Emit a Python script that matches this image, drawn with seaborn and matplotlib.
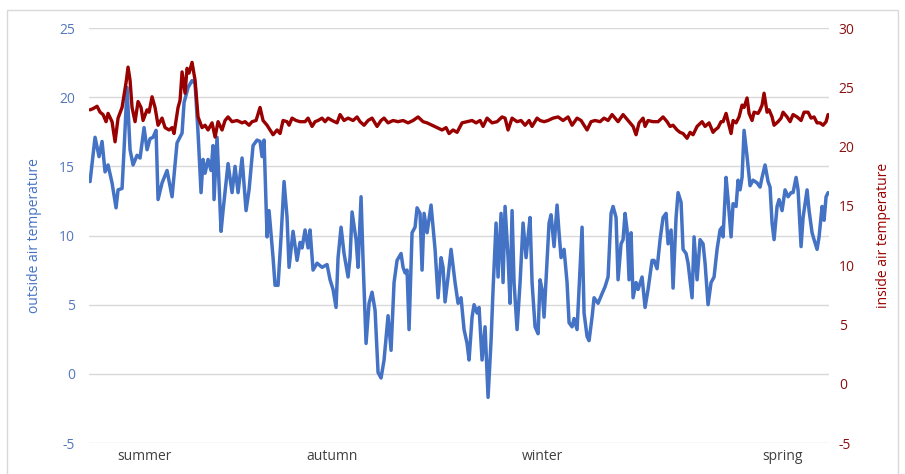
import matplotlib
matplotlib.use("Agg")
import matplotlib.pyplot as plt
from matplotlib.patches import Rectangle
import seaborn as sns
import pandas as pd

# ---- data: (day of record, temperature in degC) ----
outside_air = [
    (0, 13.9), (2.5, 17.1), (4.5, 15.7), (6, 16.8), (7.5, 14.6), (9, 15.1), (11, 13.8), (13, 12.0),
    (14, 13.3), (16, 13.4), (17, 16.2), (18.5, 20.7), (20, 16.2), (21.5, 15.1), (23.5, 15.8), (25, 15.6),
    (27, 17.8), (28.5, 16.2), (30, 17.0), (31.5, 17.1), (33, 17.6), (34, 12.6), (36, 13.8), (38.5, 14.7),
    (41, 12.8), (43.5, 16.7), (46, 17.4), (47, 19.6), (49, 20.7), (51, 21.2), (52.5, 21.0), (54, 17.4),
    (55.5, 13.1), (56.5, 15.5), (57.5, 14.5), (59, 15.5), (60.5, 14.7), (61.5, 16.5), (62, 12.6), (63.5, 17.1),
    (65.5, 10.3), (66.5, 11.8), (69, 15.2), (71, 13.1), (72.5, 15.0), (74, 13.1), (76, 15.6), (78, 11.8),
    (79.5, 13.3), (81.5, 16.5), (83.5, 16.9), (85, 16.8), (86, 15.7), (87, 16.9), (88.5, 9.9), (89.5, 11.8),
    (91.5, 8.4), (92.5, 6.4), (94, 6.4), (95.5, 9.9), (97, 13.9), (98.5, 11.3), (99.5, 7.7), (101.5, 10.3),
    (103.5, 8.2), (105, 9.5), (106, 9.1), (107.5, 10.4), (109, 9.1), (110, 10.4), (111.5, 7.5), (113.5, 8.0),
    (116, 7.7), (118.5, 7.9), (120, 6.8), (121.5, 6.1), (123, 4.8), (124, 8.4), (125.5, 10.6), (127, 8.7),
    (129, 7.0), (130, 8.4), (131, 11.7), (133, 9.7), (134, 7.7), (135.5, 12.8), (136.5, 8.2), (138, 2.2),
    (139.5, 5.1), (141, 5.9), (142.5, 4.6), (144, 0.1), (145.5, -0.3), (147, 1.0), (149, 4.2), (150.5, 1.7),
    (152, 6.6), (153.5, 8.2), (155.5, 8.7), (156.5, 7.7), (157.5, 7.3), (158.5, 7.5), (159.5, 3.2), (161, 10.2),
    (162.5, 10.6), (163.5, 12.0), (165, 11.6), (166, 7.5), (167, 11.6), (168.5, 10.2), (170.5, 12.2), (172.5, 9.0),
    (174, 5.5), (175.5, 8.4), (176.5, 7.7), (177.5, 5.2), (179, 7.0), (180.5, 9.0), (182.5, 6.6), (184, 5.1),
    (185.5, 5.5), (187, 3.2), (188.5, 2.2), (189.5, 1.0), (191, 4.1), (192, 5.0), (193.5, 4.4), (194.5, 4.8),
    (196, 1.0), (197.5, 3.4), (199, -1.7), (200.5, 2.4), (201.5, 6.1), (203, 10.9), (204, 7.0), (205.5, 11.6),
    (206.5, 6.6), (207.5, 12.1), (209, 8.4), (210, 5.1), (211, 11.8), (212, 6.6), (213.5, 3.2), (215, 6.6),
    (216.5, 10.9), (218, 8.4), (219, 9.9), (220, 11.3), (221, 6.6), (222.5, 3.4), (224, 2.9), (225, 6.8),
    (226, 6.1), (227, 4.1), (228.5, 8.2), (229.5, 10.9), (230.5, 11.5), (232, 9.2), (233.5, 12.2), (234.5, 10.2),
    (235.5, 8.4), (237, 9.0), (238.5, 6.6), (239.5, 3.7), (241, 3.4), (242, 4.0), (243.5, 3.2), (244.5, 6.1),
    (246, 10.6), (247, 4.4), (248.5, 2.7), (249.5, 2.4), (251, 4.1), (252, 5.5), (254, 5.1), (256, 5.8),
    (257.5, 6.3), (259, 7.0), (260.5, 11.6), (261.5, 12.1), (263, 11.3), (264, 6.8), (265.5, 9.4), (266.5, 9.7),
    (267.5, 11.6), (268.5, 10.4), (269.5, 6.8), (270.5, 10.2), (271.5, 5.5), (273, 6.6), (274, 6.1), (276, 7.0),
    (277.5, 4.8), (279, 6.1), (281, 8.2), (282, 8.2), (283.5, 7.6), (285, 9.7), (286.5, 11.3), (288, 11.6),
    (289, 9.4), (290.5, 10.4), (291.5, 6.2), (293, 11.3), (294, 13.1), (295.5, 12.4), (296.5, 9.0), (298, 8.7),
    (299, 8.0), (301, 5.5), (302, 9.9), (303.5, 6.8), (305, 9.7), (306.5, 9.4), (307.5, 8.0), (309, 5.0),
    (310.5, 6.6), (312, 7.0), (313.5, 9.0), (315, 10.4), (316, 10.6), (316.5, 9.9), (318, 14.2), (319, 12.6),
    (320.5, 9.9), (321.5, 12.3), (323, 12.1), (324, 14.0), (325, 13.3), (326, 14.2), (327, 17.6), (328.5, 15.7),
    (330, 13.6), (331.5, 14.0), (333.5, 13.8), (335, 13.5), (336, 14.2), (337.5, 15.1), (339, 13.9), (340, 13.5),
    (341, 10.9), (342, 9.7), (343.5, 12.1), (344.5, 12.6), (346, 11.8), (347.5, 13.3), (349, 12.8), (350.5, 13.1),
    (351.5, 13.1), (353, 14.2), (354, 13.3), (355.5, 9.2), (356.5, 11.3), (358.5, 13.3), (359.5, 11.8), (361, 10.2),
    (362, 9.7), (363.5, 9.0), (364.5, 9.9), (366, 12.1), (367, 11.1), (368, 12.8), (369, 13.1),
]

inside_air = [
    (0, 23.1), (1.5, 23.2), (3.5, 23.4), (5, 22.9), (6.5, 22.7), (8, 22.1), (9, 22.8), (11, 22.1),
    (12.5, 20.4), (14, 22.4), (16, 23.3), (18, 25.4), (19, 26.7), (20, 25.6), (21, 23.3), (22.5, 22.1),
    (24, 23.8), (25.5, 23.3), (26.5, 22.2), (28.5, 23.1), (29.5, 22.9), (31, 24.2), (32.5, 23.3), (34, 21.8),
    (36, 22.4), (37.5, 21.6), (39.5, 21.4), (41, 21.6), (42, 21.1), (44, 23.3), (45, 23.9), (46, 26.3),
    (47.5, 24.5), (48.5, 26.6), (49.5, 26.2), (51, 27.1), (52.5, 25.6), (54, 22.5), (56, 21.6), (57.5, 21.8),
    (59, 21.4), (61, 22.0), (62.5, 20.8), (64, 22.1), (66, 21.4), (67.5, 22.2), (69, 22.5), (71, 22.1),
    (73.5, 22.2), (76, 22.0), (77.5, 22.1), (79.5, 21.8), (81, 22.1), (83, 22.2), (85, 23.3), (86.5, 22.2),
    (88.5, 21.8), (90, 21.4), (91.5, 21.0), (93.5, 21.4), (95, 21.1), (96.5, 22.2), (98.5, 22.1), (99.5, 21.8),
    (101, 22.4), (103, 22.2), (105, 22.1), (107.5, 22.1), (109, 22.4), (111, 21.7), (112.5, 22.1), (114, 22.2),
    (116, 22.4), (117.5, 22.1), (119, 22.4), (121, 22.2), (123.5, 22.0), (125, 22.7), (127, 22.2), (129, 22.4),
    (131.5, 22.2), (133.5, 22.5), (135, 22.1), (137, 21.8), (139, 22.2), (141, 22.4), (143.5, 21.7), (145.5, 22.2),
    (147, 22.4), (149, 22.0), (151.5, 22.2), (154, 22.1), (156.5, 22.2), (159, 22.0), (161.5, 22.2), (164, 22.5),
    (166.5, 22.1), (168.5, 22.0), (171, 21.8), (173.5, 21.6), (176, 21.4), (178, 21.6), (179.5, 21.1), (181.5, 21.4),
    (183.5, 21.2), (186, 22.0), (188.5, 22.1), (191, 22.2), (193, 22.0), (195, 22.2), (196.5, 21.7), (198.5, 22.4),
    (201, 22.0), (203.5, 22.1), (206, 22.5), (207.5, 22.4), (209, 21.4), (211, 22.4), (213.5, 22.1), (215.5, 22.2),
    (217.5, 21.8), (219.5, 22.2), (221, 21.7), (223.5, 22.4), (225, 22.2), (227, 22.1), (229, 22.2), (231.5, 22.4),
    (234, 22.5), (236.5, 22.2), (239, 22.5), (241, 21.8), (243.5, 22.4), (245.5, 22.2), (248.5, 21.4), (250.5, 22.1),
    (252.5, 22.2), (255, 22.1), (257, 22.4), (259, 22.2), (261, 22.7), (262.5, 22.4), (264, 22.1), (266.5, 22.7),
    (269, 22.2), (271.5, 21.7), (273, 21.0), (274.5, 22.0), (276.5, 22.4), (277.5, 21.7), (279, 22.2), (281.5, 22.1),
    (284, 22.1), (286.5, 22.5), (288.5, 22.1), (290, 21.7), (291.5, 21.8), (293.5, 21.4), (295, 21.2), (296.5, 21.1),
    (298.5, 20.7), (300, 21.2), (301.5, 21.0), (303.5, 21.7), (306, 22.1), (307.5, 21.7), (309.5, 22.0), (311.5, 21.2),
    (312.5, 21.4), (314, 21.6), (315.5, 22.1), (316.5, 22.1), (318, 22.8), (319, 22.1), (320.5, 21.1), (321.5, 22.2),
    (323, 22.0), (324.5, 22.5), (326, 23.5), (327, 23.3), (328.5, 24.1), (329.5, 22.8), (331, 22.2), (332, 22.9),
    (334, 22.8), (335, 23.1), (336, 23.5), (337, 24.5), (338.5, 22.9), (339.5, 23.1), (341, 22.5), (342, 21.8),
    (344, 22.1), (345.5, 22.4), (346.5, 22.9), (348.5, 22.5), (350, 22.1), (351.5, 22.7), (353.5, 22.5), (355.5, 22.2),
    (357, 22.9), (359, 22.9), (360.5, 22.4), (362, 22.5), (363.5, 22.0), (365, 22.0), (366.5, 21.8), (368, 22.1),
    (369, 22.7),
]

season_labels = ["summer", "autumn", "winter", "spring"]
season_days = [27, 121, 226, 346]

left_ticks = [-5, 0, 5, 10, 15, 20, 25]
right_ticks = [-5, 0, 5, 10, 15, 20, 25, 30]

df_out = pd.DataFrame(outside_air, columns=["day", "temp"])
df_in = pd.DataFrame(inside_air, columns=["day", "temp"])

# ---- style ----
sns.set_theme(style="white")
plt.rcParams["font.family"] = ["Open Sans", "DejaVu Sans"]
plt.rcParams["axes.unicode_minus"] = False

BLUE = "#4472C4"
BLUE_TXT = "#5577bb"
RED = "#990000"
RED_TXT = "#8b1010"
GRID = "#d9d9d9"

fig = plt.figure(figsize=(9.05, 4.74), dpi=100)
fig.patch.set_facecolor("white")
ax = fig.add_axes([0.0984, 0.0654, 0.8177, 0.8755])
ax2 = ax.twinx()

sns.lineplot(data=df_out, x="day", y="temp", ax=ax, color=BLUE, linewidth=2.5,
             estimator=None, sort=True)
sns.lineplot(data=df_in, x="day", y="temp", ax=ax2, color=RED, linewidth=2.4,
             estimator=None, sort=True)

ax.set_xlim(-0.5, 369.5)
ax.set_ylim(-5, 25)
ax2.set_ylim(-5, 30)
ax.set_yticks(left_ticks)
ax2.set_yticks(right_ticks)
ax.set_xticks(season_days)
ax.set_xticklabels(season_labels)

ax.grid(axis="y", color=GRID, linewidth=1.0)
ax.grid(axis="x", visible=False)
ax2.grid(False)
for a in (ax, ax2):
    for s in a.spines.values():
        s.set_visible(False)
ax.set_axisbelow(True)

ax.tick_params(axis="y", length=0, pad=10, labelsize=10, labelcolor=BLUE_TXT)
ax2.tick_params(axis="y", length=0, pad=7, labelsize=10, labelcolor=RED_TXT)
ax.tick_params(axis="x", length=0, pad=4, labelsize=10, labelcolor="#404040")

ax.set_xlabel("")
ax.set_ylabel("outside air temperature", color=BLUE, fontsize=10)
ax2.set_ylabel("inside air temperature", color=RED, fontsize=10)
ax.yaxis.set_label_coords(-0.064, 0.5)
ax2.yaxis.set_label_coords(1.064, 0.5)

# outer light frame
fig.patches.append(Rectangle((0.008, -0.01), 0.984, 0.989, transform=fig.transFigure,
                             fill=False, edgecolor="#d9d9d9", linewidth=1.0))

fig.savefig("out.png", dpi=100, facecolor="white")
